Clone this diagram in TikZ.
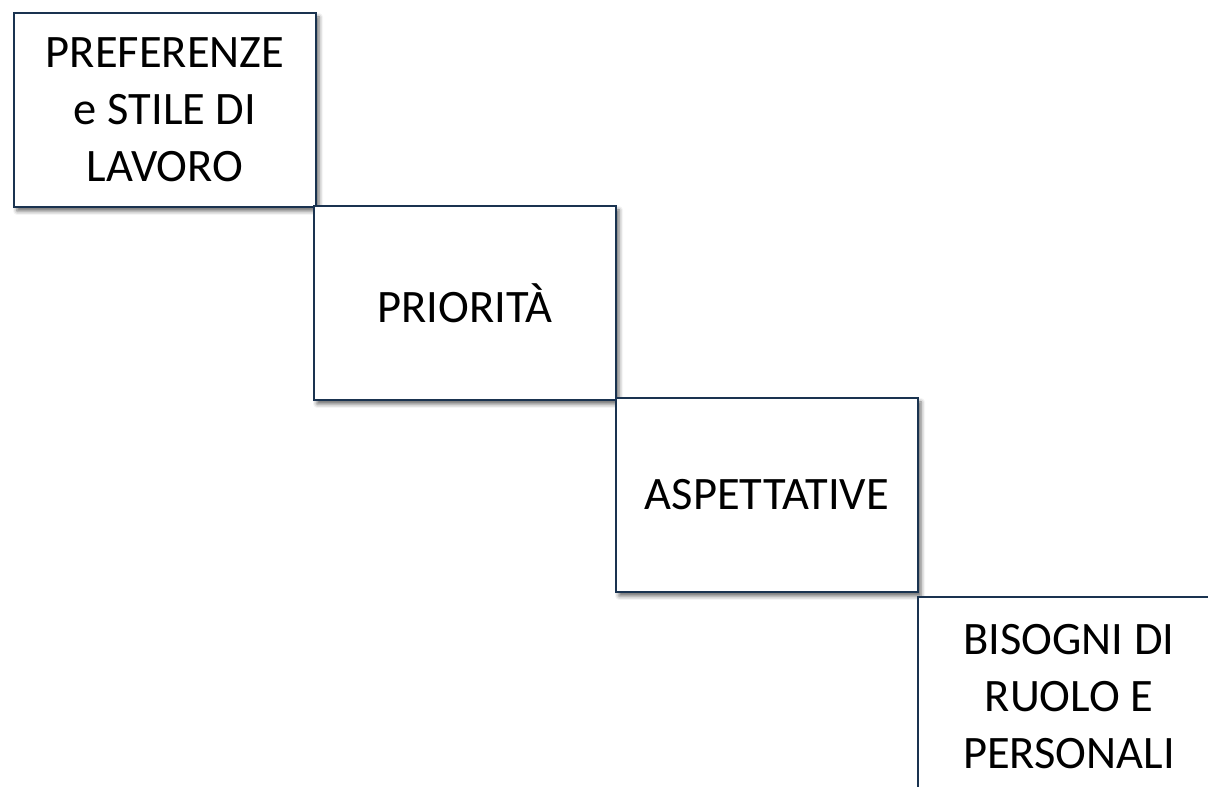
\documentclass[tikz,border=0pt]{standalone}
\usepackage{fontspec}
\setmainfont{Carlito}
\usetikzlibrary{shadows.blur}
\definecolor{boxborder}{HTML}{1A3350}
\begin{document}
\begin{tikzpicture}[x=1pt,y=1pt,
  stepbox/.style={draw=boxborder, line width=2pt, fill=white,
    minimum width=302pt, minimum height=194pt, inner sep=0pt,
    anchor=north west, align=center,
    font=\fontsize{46.5}{57}\selectfont,
    blur shadow={shadow xshift=3pt, shadow yshift=-4pt, shadow blur radius=4pt, shadow opacity=60}}]
\useasboundingbox (0,0) rectangle (1208,787);
\node[stepbox] (b1) at (13,775) {PREFERENZE\\e STILE DI\\LAVORO};
\node[stepbox] (b2) at (313,582) {PRIORITÀ};
\node[stepbox] (b3) at (615,390) {ASPETTATIVE};
\node[stepbox, minimum height=200pt] (b4) at (917,191) {BISOGNI DI\\RUOLO E\\PERSONALI};
\end{tikzpicture}
\end{document}
